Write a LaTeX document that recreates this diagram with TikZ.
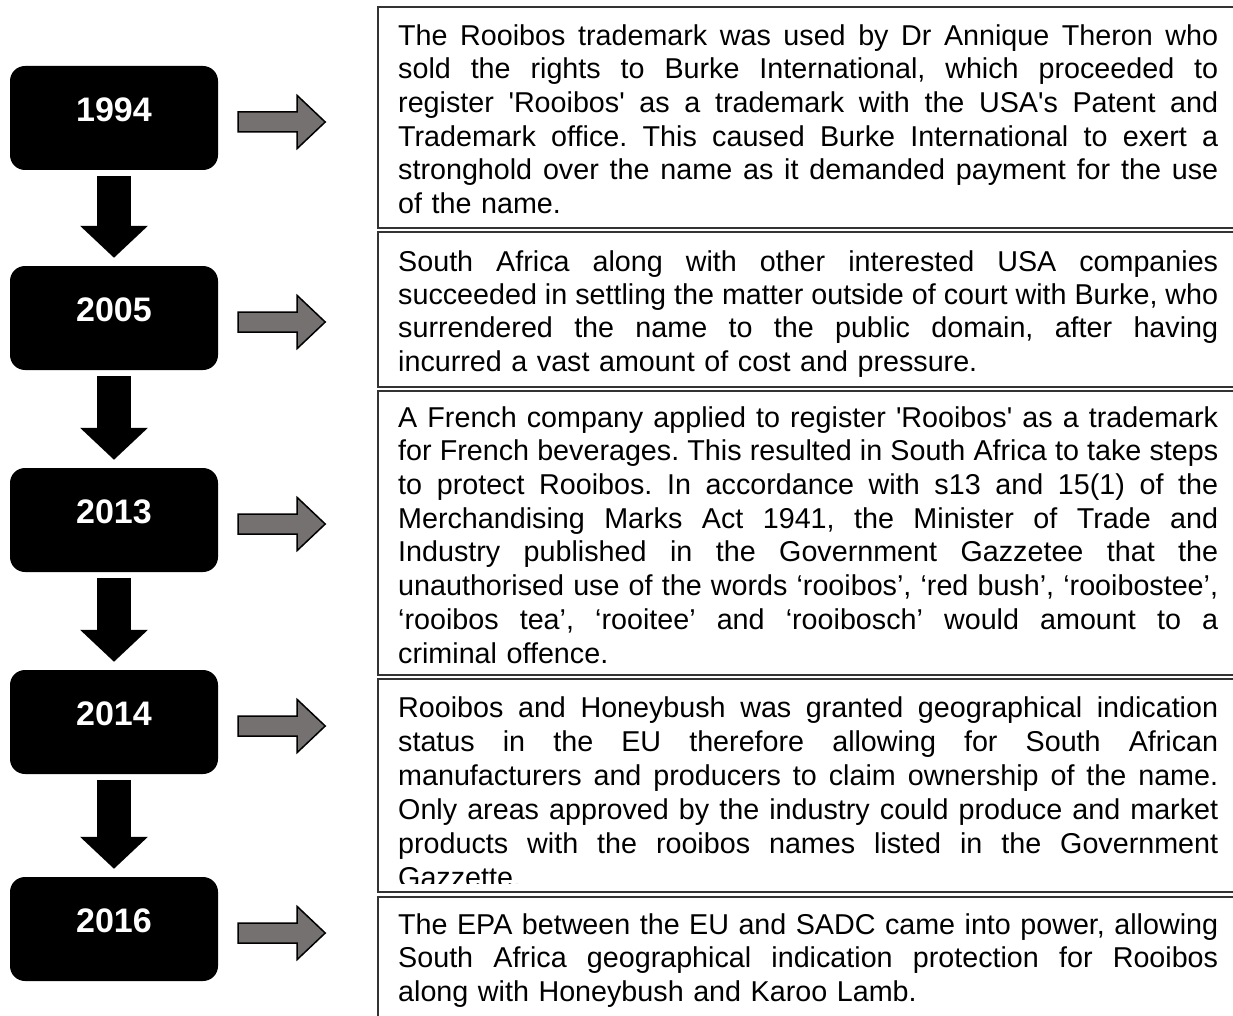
\documentclass[tikz,border=0pt]{standalone}
\usepackage{fontspec}
\newfontfamily\bodyfont{Liberation Sans}
\usetikzlibrary{arrows.meta, calc}
\definecolor{arrowgray}{HTML}{767171}
\newlength{\colw}
\setlength{\colw}{820pt}
% one justified line of a text box
\newcommand{\jl}[1]{\leavevmode\hbox to\colw{\spaceskip=0.278em plus 1fil minus 0.15em\relax\strut #1}}
\newcommand{\boxfont}[1]{\bodyfont\fontsize{28.7}{#1}\selectfont\frenchspacing}

\tikzset{
  year/.style={fill=black, rounded corners=15pt, minimum width=208pt, minimum height=104pt,
    inner sep=0pt, text=white, font=\bodyfont\bfseries\fontsize{34}{34}\selectfont,
    text height=24.5pt, text depth=18pt},
  downarrow/.style={line width=34pt, -{Triangle[length=32pt, width=66pt]}},
  sidearrow/.style={draw=black, line width=1.5pt, fill=arrowgray, line join=miter},
  txtbox/.style={draw=black!80, line width=1.3pt},
  txt/.style={anchor=north west, inner sep=0pt, text width=\colw, align=left,
    font=\boxfont{33.5}}
}

\begin{document}
\begin{tikzpicture}[x=1pt, y=-1pt]

\useasboundingbox (0,0) rectangle (1233,1016);

% year boxes
\node[year] (y1) at (114,118) {1994};
\node[year] (y2) at (114,318) {2005};
\node[year] (y3) at (114,520) {2013};
\node[year] (y4) at (114,722) {2014};
\node[year] (y5) at (114,929) {2016};

\draw[downarrow] ($(y1.south)+(0,6)$) -- ($(y2.north)+(0,-8)$);
\draw[downarrow] ($(y2.south)+(0,6)$) -- ($(y3.north)+(0,-8)$);
\draw[downarrow] ($(y3.south)+(0,6)$) -- ($(y4.north)+(0,-8)$);
\draw[downarrow] ($(y4.south)+(0,6)$) -- ($(y5.north)+(0,-8)$);

\draw[sidearrow] ($(y1.east)+(20,-6)$) -- ++(59,0) -- ++(0,-16.5) -- ++(28,26.5) -- ++(-28,26.5) -- ++(0,-16.5) -- ++(-59,0) -- cycle;
\draw[sidearrow] ($(y2.east)+(20,-6)$) -- ++(59,0) -- ++(0,-16.5) -- ++(28,26.5) -- ++(-28,26.5) -- ++(0,-16.5) -- ++(-59,0) -- cycle;
\draw[sidearrow] ($(y3.east)+(20,-6)$) -- ++(59,0) -- ++(0,-16.5) -- ++(28,26.5) -- ++(-28,26.5) -- ++(0,-16.5) -- ++(-59,0) -- cycle;
\draw[sidearrow] ($(y4.east)+(20,-6)$) -- ++(59,0) -- ++(0,-16.5) -- ++(28,26.5) -- ++(-28,26.5) -- ++(0,-16.5) -- ++(-59,0) -- cycle;
\draw[sidearrow] ($(y5.east)+(20,-6)$) -- ++(59,0) -- ++(0,-16.5) -- ++(28,26.5) -- ++(-28,26.5) -- ++(0,-16.5) -- ++(-59,0) -- cycle;

% text boxes
\draw[txtbox] (378,7) rectangle (1240,228);
\node[txt, font=\boxfont{33.6}] (t1) at (398,21.5) {\jl{The Rooibos trademark was used by Dr Annique Theron who}\\
  \jl{sold the rights to Burke International, which proceeded to}\\
  \jl{register 'Rooibos' as a trademark with the USA's Patent and}\\
  \jl{Trademark office. This caused Burke International to exert a}\\
  \jl{stronghold over the name as it demanded payment for the use}\\
  of the name.};

\draw[txtbox] (378,232) rectangle (1240,387);
\node[txt, font=\boxfont{33.3}] (t2) at (398,247.7) {\jl{South Africa along with other interested USA companies}\\
  \jl{succeeded in settling the matter outside of court with Burke, who}\\
  \jl{surrendered the name to the public domain, after having}\\
  incurred a vast amount of cost and pressure.};

\draw[txtbox] (378,391) rectangle (1240,675);
\node[txt, font=\boxfont{33.7}] (t3) at (398,403.4) {\jl{A French company applied to register 'Rooibos' as a trademark}\\
  \jl{for French beverages. This resulted in South Africa to take steps}\\
  \jl{to protect Rooibos. In accordance with s13 and 15(1) of the}\\
  \jl{Merchandising Marks Act 1941, the Minister of Trade and}\\
  \jl{Industry published in the Government Gazzetee that the}\\
  \jl{unauthorised use of the words ‘rooibos’, ‘red bush’, ‘rooibostee’,}\\
  \jl{‘rooibos tea’, ‘rooitee’ and ‘rooibosch’ would amount to a}\\
  criminal offence.};

\draw[txtbox] (378,679) rectangle (1240,892);
\begin{scope}
  \clip (378,679) rectangle (1240,883);
  \node[txt, font=\boxfont{34}] (t4) at (398,693.2) {\jl{Rooibos and Honeybush was granted geographical indication}\\
    \jl{status in the EU therefore allowing for South African}\\
    \jl{manufacturers and producers to claim ownership of the name.}\\
    \jl{Only areas approved by the industry could produce and market}\\
    \jl{products with the rooibos names listed in the Government}\\
    Gazzette.};
\end{scope}

\draw[txtbox] (378,897) rectangle (1240,1030);
\node[txt] (t5) at (398,910.5) {\jl{The EPA between the EU and SADC came into power, allowing}\\
  \jl{South Africa geographical indication protection for Rooibos}\\
  along with Honeybush and Karoo Lamb.};

\end{tikzpicture}
\end{document}
